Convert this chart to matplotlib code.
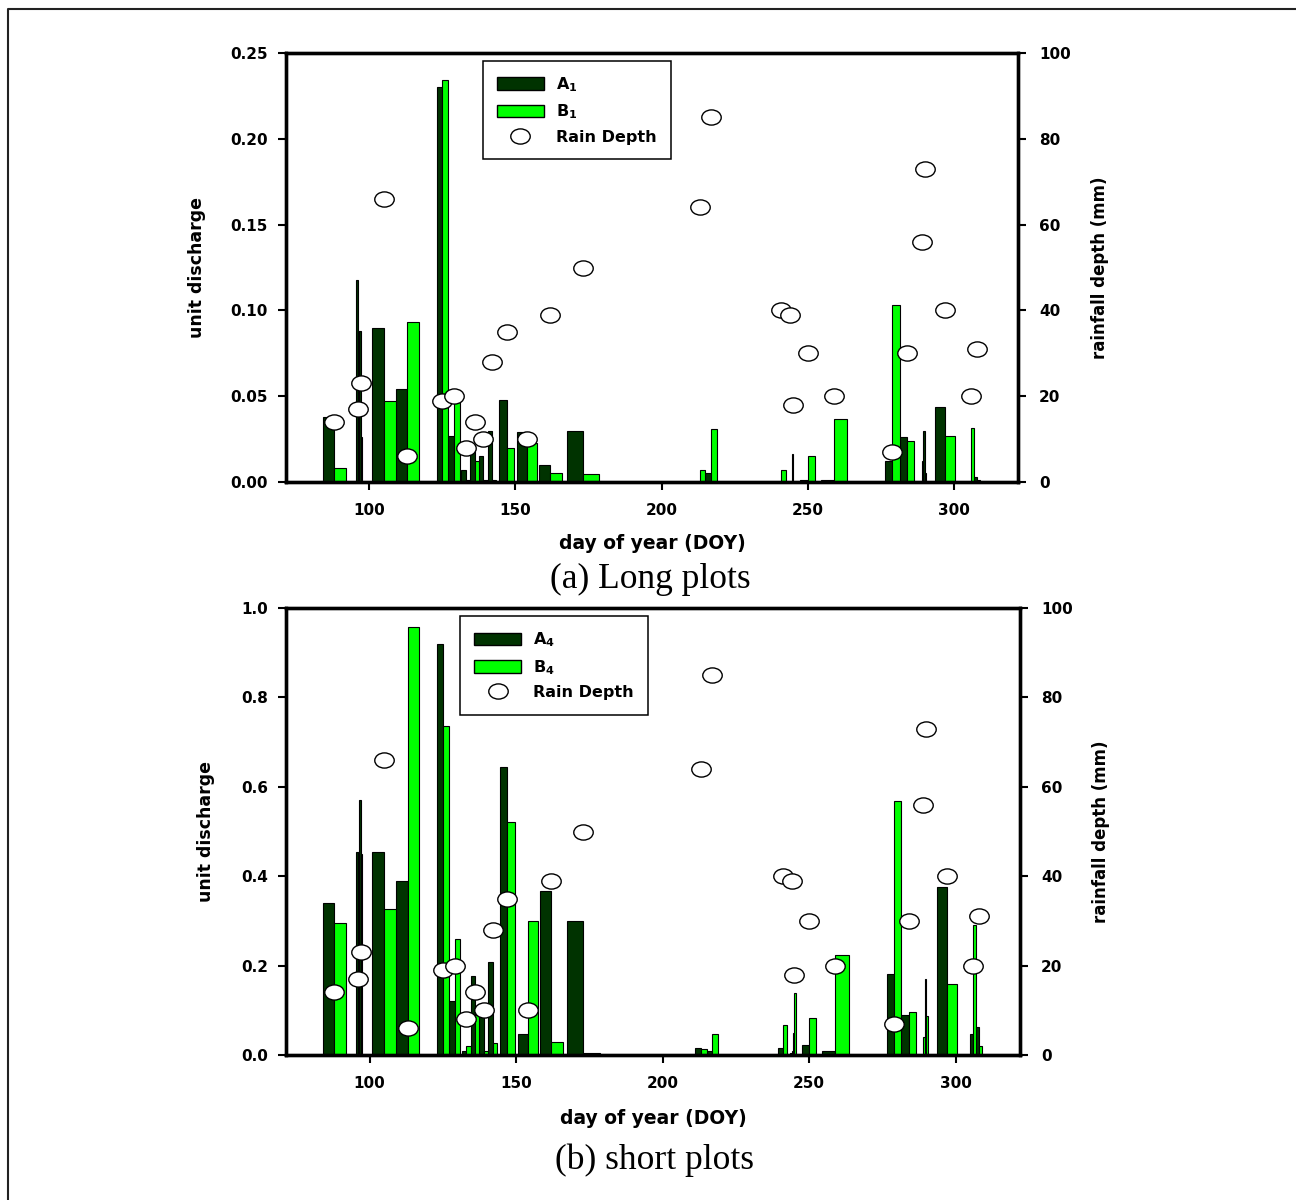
import numpy as np
import matplotlib
matplotlib.use("Agg")
import matplotlib.pyplot as plt
from matplotlib.patches import Patch
from matplotlib.lines import Line2D
from matplotlib.path import Path


# rain events (day of year) and rain depth (mm)
doy = [88, 96, 97, 105, 113, 125, 129, 133, 136, 139, 142, 147, 154, 162, 173,
       213, 217, 241, 244, 245, 250, 259, 279, 284, 289, 290, 297, 306, 308]
rain = [14, 17, 23, 66, 6, 19, 20, 8, 14, 10, 28, 35, 10, 39, 50,
        64, 85, 40, 39, 18, 30, 20, 7, 30, 56, 73, 40, 20, 31]

# (a) long plots: unit discharge
a1 = [0.038, 0.118, 0.088, 0.090, 0.054, 0.230, 0.027, 0.007, 0.018, 0.015, 0.030,
      0.048, 0.029, 0.010, 0.030, 0.0, 0.0055, 0.0, 0.0, 0.0166, 0.001, 0.001,
      0.012, 0.026, 0.0, 0.030, 0.044, 0.0, 0.003]
b1 = [0.008, 0.088, 0.026, 0.047, 0.093, 0.234, 0.047, 0.001, 0.012, 0.001, 0.001,
      0.020, 0.023, 0.005, 0.0047, 0.007, 0.031, 0.007, 0.0, 0.0, 0.015, 0.037,
      0.103, 0.024, 0.012, 0.005, 0.027, 0.0315, 0.001]

# (b) short plots: unit discharge
a4 = [0.34, 0.455, 0.57, 0.455, 0.39, 0.92, 0.121, 0.008, 0.177, 0.10, 0.209,
      0.645, 0.046, 0.368, 0.30, 0.015, 0.01, 0.015, 0.005, 0.05, 0.022, 0.01,
      0.181, 0.09, 0.0, 0.17, 0.375, 0.046, 0.063]
b4 = [0.296, 0.455, 0.45, 0.327, 0.957, 0.736, 0.26, 0.02, 0.09, 0.01, 0.028,
      0.521, 0.30, 0.03, 0.004, 0.013, 0.046, 0.067, 0.01, 0.138, 0.082, 0.224,
      0.568, 0.097, 0.04, 0.088, 0.16, 0.29, 0.02]

DARK = "#003300"
LIGHT = "#00ff00"

plt.rcParams["font.family"] = ["DejaVu Sans"]
plt.rcParams["font.weight"] = "bold"

# group width = distance to the nearest neighbouring event
x = np.array(doy, dtype=float)
gaps = np.diff(x)
group_w = np.minimum(np.r_[gaps[0], gaps], np.r_[gaps, gaps[-1]])

# slightly flattened circle marker
circ = Path.unit_circle()
rain_marker = Path(circ.vertices * [1.0, 0.78], circ.codes)


def panel(rect, a, b, ylim, yticks, yfmt, sub, legend_x, xlabel_y, ylabel_x, rlabel_x):
    ax = fig.add_axes(rect)
    ax.bar(x - group_w / 4, a, width=group_w / 2, color=DARK,
           edgecolor="black", linewidth=0.8)
    ax.bar(x + group_w / 4, b, width=group_w / 2, color=LIGHT,
           edgecolor="black", linewidth=0.8)
    ax.set_xlim(71.5, 322)
    ax.set_ylim(*ylim)
    ax.set_xticks([100, 150, 200, 250, 300])
    ax.set_yticks(yticks)
    ax.set_yticklabels([yfmt % t for t in yticks])
    ax.tick_params(direction="out", length=6, width=1.5, labelsize=11, pad=7)
    ax.tick_params(axis="x", pad=9)
    ax.set_xlabel("day of year (DOY)", fontsize=13.5, fontweight="bold")
    ax.xaxis.set_label_coords(0.5, xlabel_y)
    ax.set_ylabel("unit discharge", fontsize=12.5, fontweight="bold")
    ax.yaxis.set_label_coords(ylabel_x, 0.5)

    ax2 = ax.twinx()
    ax2.plot(x, rain, linestyle="none", marker=rain_marker, markersize=14,
             markerfacecolor="white", markeredgecolor="black",
             markeredgewidth=1.0)
    ax2.set_ylim(0, 100)
    ax2.set_yticks([0, 20, 40, 60, 80, 100])
    ax2.tick_params(direction="out", length=6, width=1.5, labelsize=11, pad=9)
    ax2.set_ylabel("rainfall depth (mm)", fontsize=12, fontweight="bold")
    ax2.yaxis.set_label_coords(rlabel_x, 0.5)

    for a_ in (ax, ax2):
        for s in a_.spines.values():
            s.set_linewidth(2.4)

    handles = [
        Patch(facecolor=DARK, edgecolor="black", linewidth=1.0),
        Patch(facecolor=LIGHT, edgecolor="black", linewidth=1.0),
        Line2D([], [], linestyle="none", marker=rain_marker, markersize=14,
               markerfacecolor="white", markeredgecolor="black",
               markeredgewidth=1.0),
    ]
    labels = [r"$\mathbf{A_%s}$" % sub, r"$\mathbf{B_%s}$" % sub, "Rain Depth"]
    leg = ax2.legend(handles, labels, loc="upper left",
                     bbox_to_anchor=(legend_x, 0.982), fontsize=11.5,
                     frameon=True, fancybox=False, framealpha=1,
                     edgecolor="black", handlelength=2.9, handleheight=0.85,
                     handletextpad=0.8, labelspacing=0.55, borderpad=0.9,
                     borderaxespad=0)
    leg.get_frame().set_linewidth(1.1)
    return ax


fig = plt.figure(figsize=(12.96, 12), dpi=100)

panel([0.2207, 0.5983, 0.5648, 0.3575], a1, b1, (0, 0.25),
      [0, 0.05, 0.10, 0.15, 0.20, 0.25], "%.2f", "1", 0.269, -0.121, -0.110, 1.100)
panel([0.2207, 0.1208, 0.5664, 0.3725], a4, b4, (0, 1.0),
      [0, 0.2, 0.4, 0.6, 0.8, 1.0], "%.1f", "4", 0.237, -0.121, -0.097, 1.098)

fig.text(0.5015, 0.5167, "(a) Long plots", family="Liberation Serif",
         fontweight="normal", fontsize=25.5, ha="center", va="center")
fig.text(0.505, 0.0333, "(b) short plots", family="Liberation Serif",
         fontweight="normal", fontsize=25.5, ha="center", va="center")

# outer frame (only top and left edges are visible in the crop)
fig.add_artist(Line2D([8 / 1296, 8 / 1296, 1.0], [0.0, 1 - 9 / 1200, 1 - 9 / 1200],
                      transform=fig.transFigure, color="#222222", linewidth=1.5))

fig.savefig("out.png", dpi=100)
